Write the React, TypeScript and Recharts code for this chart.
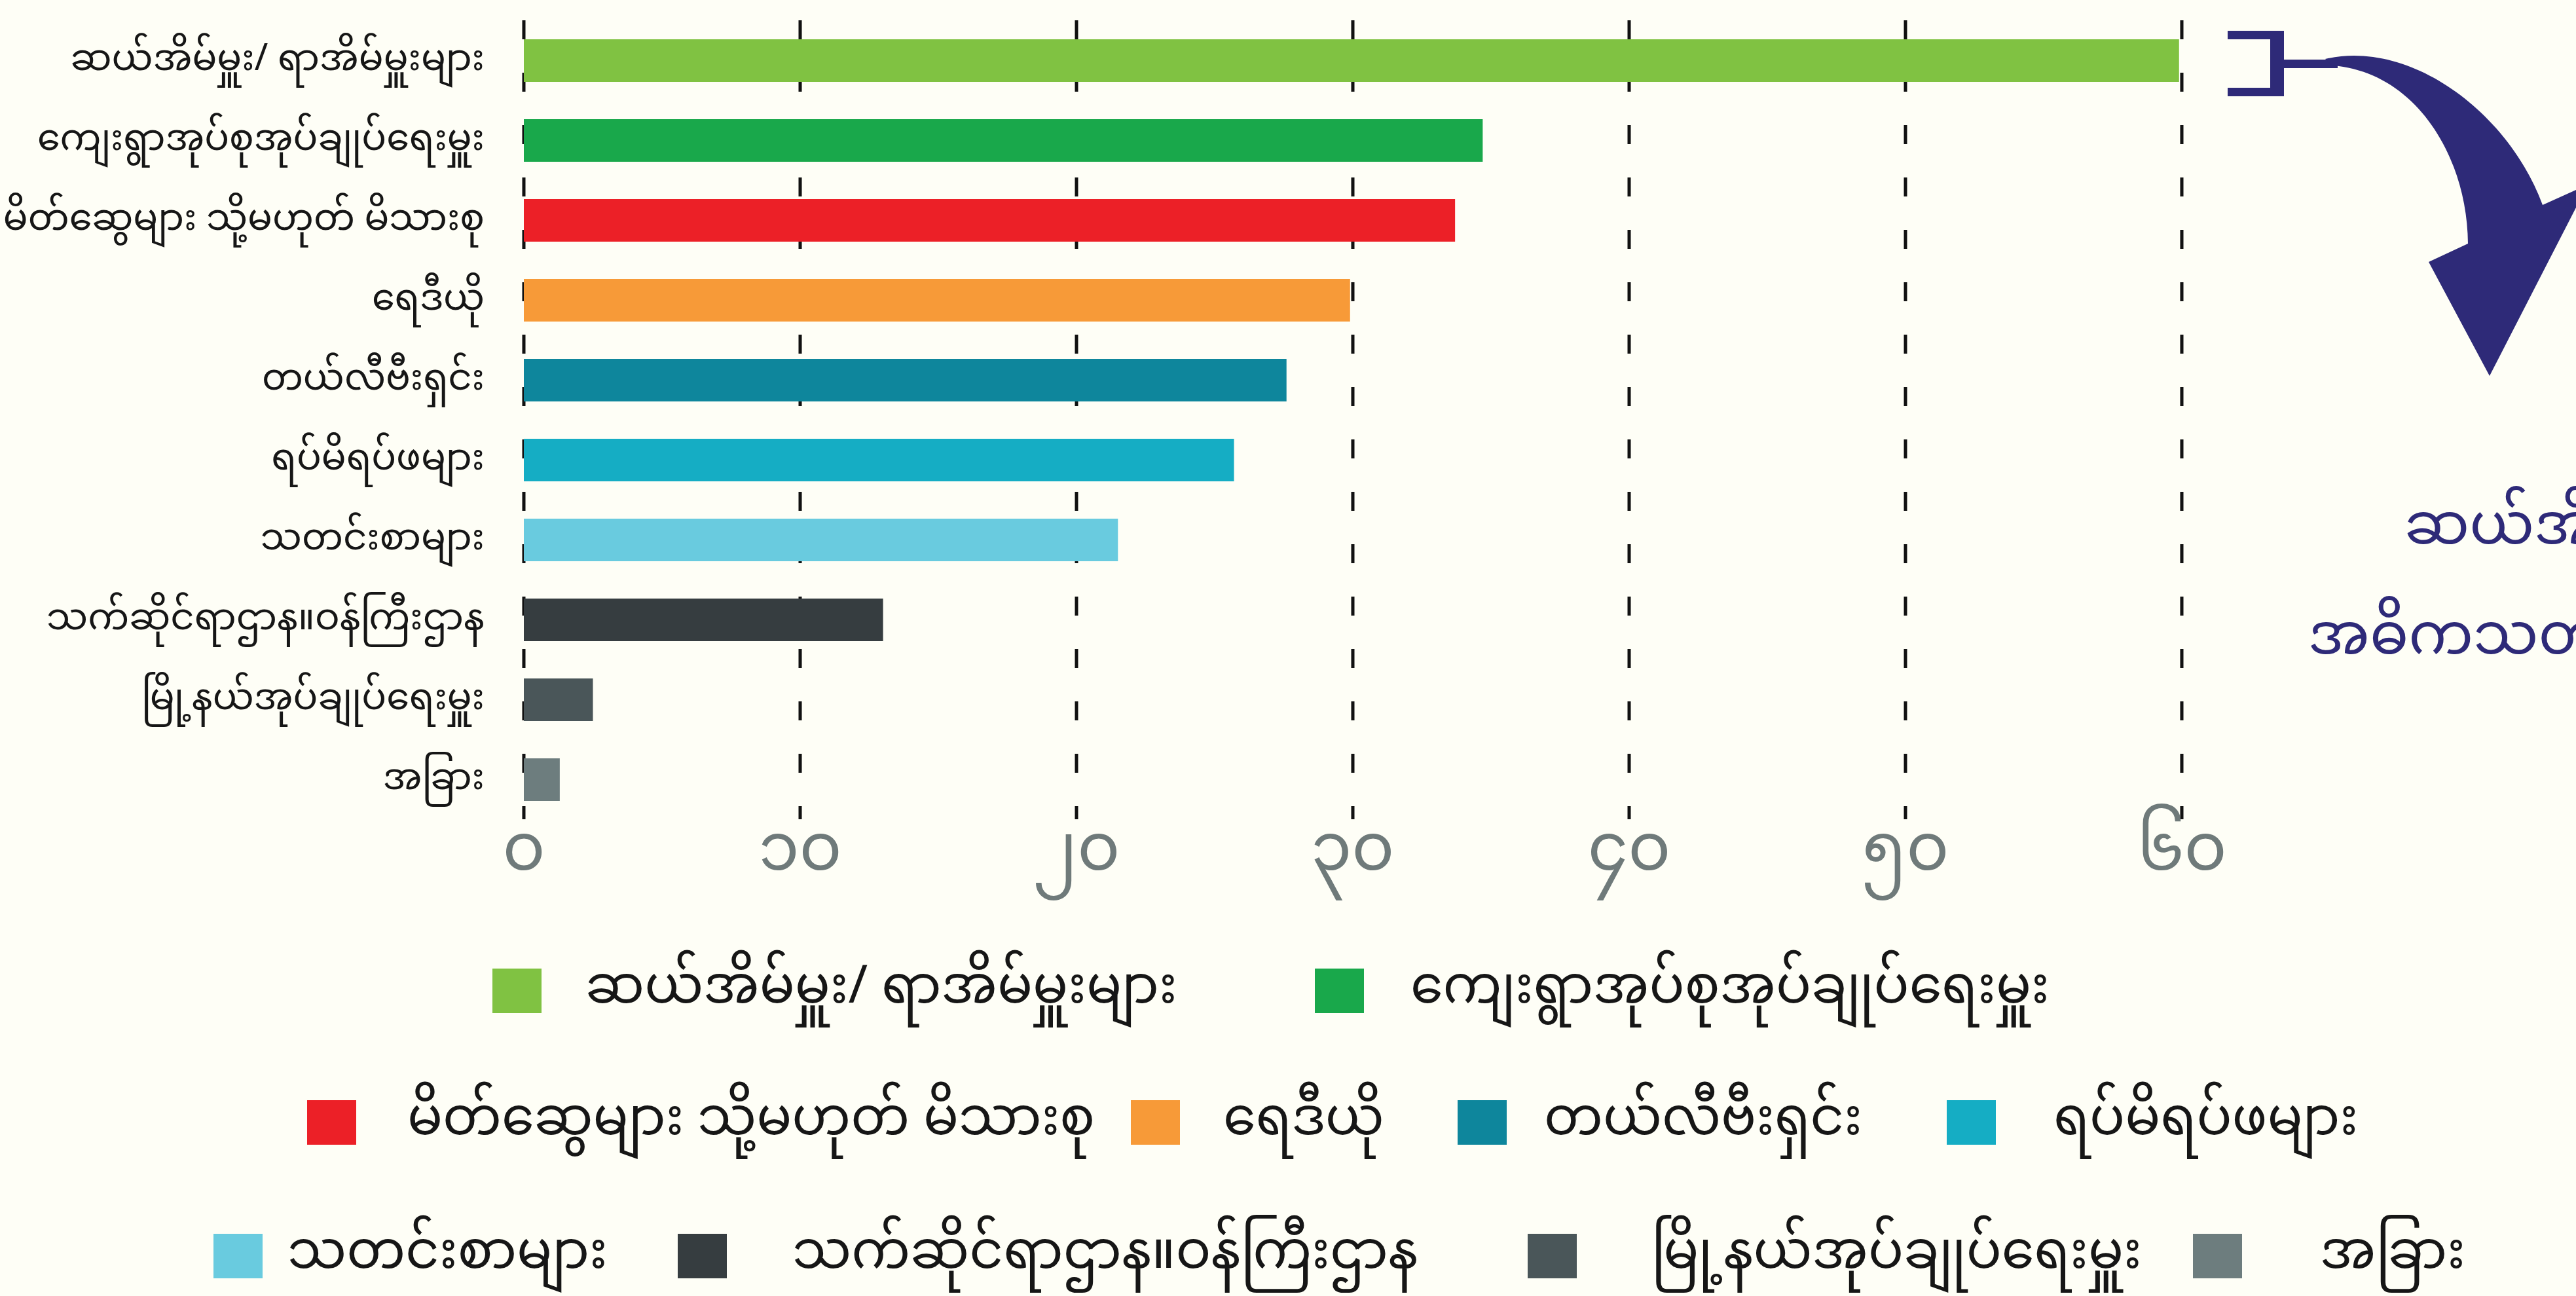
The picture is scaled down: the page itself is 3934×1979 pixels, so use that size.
import React from 'react';
import { BarChart, Bar, XAxis, YAxis, CartesianGrid, Cell } from 'recharts';

const categories = [
  'ဆယ်အိမ်မှူး/ ရာအိမ်မှူးများ',
  'ကျေးရွာအုပ်စုအုပ်ချုပ်ရေးမှူး',
  'မိတ်ဆွေများ သို့မဟုတ် မိသားစု',
  'ရေဒီယို',
  'တယ်လီဗီးရှင်း',
  'ရပ်မိရပ်ဖများ',
  'သတင်းစာများ',
  'သက်ဆိုင်ရာဌာန။ဝန်ကြီးဌာန',
  'မြို့နယ်အုပ်ချုပ်ရေးမှူး',
  'အခြား',
];
const values = [59.9, 34.7, 33.7, 29.9, 27.6, 25.7, 21.5, 13.0, 2.5, 1.3];
const colors = [
  '#80c242',
  '#19a84b',
  '#ec2027',
  '#f79a38',
  '#0e869c',
  '#15adc4',
  '#69cbdf',
  '#363d40',
  '#4a5659',
  '#6d7d7e',
];
const xTicks = [0, 10, 20, 30, 40, 50, 60];
const xTickLabels = ['၀', '၁၀', '၂၀', '၃၀', '၄၀', '၅၀', '၆၀'];
const legendRows = [[0, 1], [2, 3, 4, 5], [6, 7, 8, 9]];
const noteLines = ['ဆယ်အိမ်မှူး/ရာအိမ်မှူးများသည်', 'အဓိကသတင်းရင်းမြစ်ဖြစ်သည်'];

const data = categories.map((name, i) => ({ name, value: values[i] }));

const FONT = "'Noto Sans Myanmar', 'Noto Sans Myanmar UI', Padauk, 'Myanmar Text', 'Noto Sans', sans-serif";
const BG = '#fefef6';
const NAVY = '#2e2a78';

if (typeof document !== 'undefined') {
  document.body.style.margin = '0';
  document.body.style.background = BG;
}

// legend square / text x positions per item (px)
const legendSquareX = [752, 2008, 469, 1727, 2226, 2973, 326, 1035, 2333, 3349];
const legendTextX = [894, 2154, 622, 1868, 2358, 3136, 439, 1210, 2522, 3543];
const legendRowY = [1513, 1714, 1918];

const YTick = ({ x, y, payload }: any) => (
  <text x={x - 60} y={y} dy={15} textAnchor="end" fontSize={56} fill="#161616" fontFamily={FONT}>
    {payload.value}
  </text>
);

const XTick = ({ x, y, payload, index }: any) => (
  <text x={x} y={y} dy={69} textAnchor="middle" fontSize={100} fill="#6f7a7a" fontFamily={FONT}>
    {xTickLabels[index] ?? payload.value}
  </text>
);

export default function App() {
  return (
    <div style={{ position: 'relative', width: 3934, height: 1979, overflow: 'hidden', background: BG, fontFamily: FONT }}>
      <BarChart
        width={3934}
        height={1979}
        layout="vertical"
        data={data}
        margin={{ top: 31, right: 602, left: 0, bottom: 608 }}
      >
        <CartesianGrid horizontal={false} stroke="#111" strokeWidth={5} strokeDasharray="29 51" />
        <XAxis
          type="number"
          domain={[0, 60]}
          ticks={xTicks}
          axisLine={false}
          tickLine={false}
          height={120}
          tick={<XTick />}
          interval={0}
        />
        <YAxis
          type="category"
          dataKey="name"
          width={800}
          axisLine={false}
          tickLine={false}
          tickSize={0}
          tickMargin={0}
          tick={<YTick />}
          interval={0}
        />
        <Bar dataKey="value" barSize={65} isAnimationActive={false}>
          {data.map((d, i) => (
            <Cell key={d.name} fill={colors[i]} />
          ))}
        </Bar>
      </BarChart>

      {/* legend */}
      {legendRows.map((row, r) =>
        row.map((i) => (
          <React.Fragment key={i}>
            <div
              style={{
                position: 'absolute',
                left: legendSquareX[i],
                top: legendRowY[r] - 34,
                width: 75,
                height: 68,
                background: colors[i],
              }}
            />
            <div
              style={{
                position: 'absolute',
                left: legendTextX[i],
                top: legendRowY[r] - 45,
                height: 90,
                lineHeight: '90px',
                fontSize: 80,
                color: '#161616',
                whiteSpace: 'nowrap',
              }}
            >
              {categories[i]}
            </div>
          </React.Fragment>
        ))
      )}

      {/* bracket, arrow and note on the right */}
      <svg width={3934} height={1979} style={{ position: 'absolute', left: 0, top: 0, pointerEvents: 'none' }}>
        <path d="M3402 47 H3488 V147 H3402 V134 H3467 V60 H3402 Z" fill={NAVY} />
        <rect x={3486} y={91} width={84} height={13} fill={NAVY} />
        <path
          d="M3551 90 C3680 60 3830 170 3883 313 L3952 282 L3802 574 L3709 400 L3769 372 C3768 240 3690 110 3562 100 Z"
          fill={NAVY}
        />
        <text x={3672} y={830} fontSize={88} fill={NAVY} fontFamily={FONT}>
          {noteLines[0]}
        </text>
        <text x={3525} y={998} fontSize={88} fill={NAVY} fontFamily={FONT}>
          {noteLines[1]}
        </text>
      </svg>
    </div>
  );
}
